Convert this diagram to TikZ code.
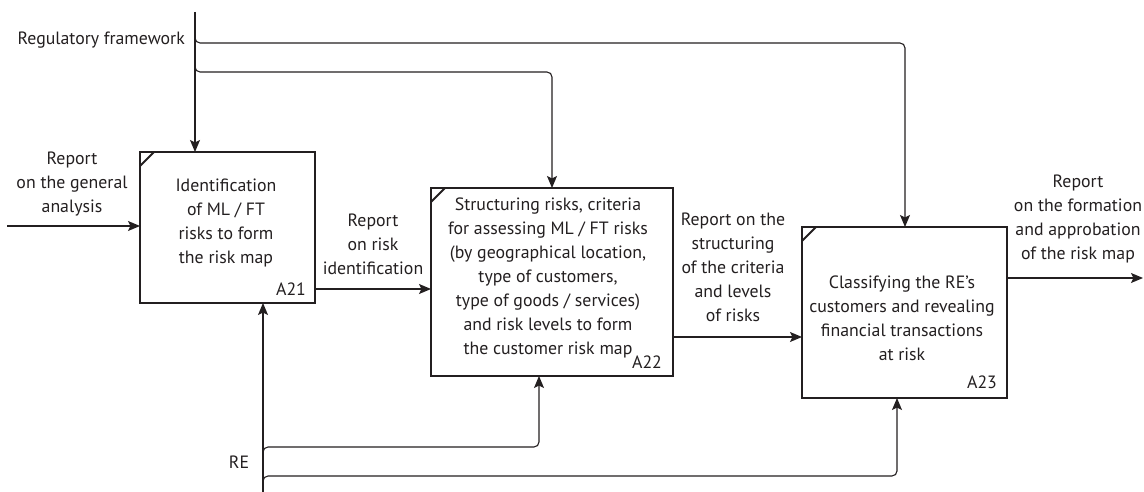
\documentclass[tikz,border=0pt]{standalone}
\usepackage{fontspec}
\setmainfont{PT Sans}
\usetikzlibrary{arrows.meta}
\definecolor{ink}{HTML}{231F20}
\begin{document}
\begin{tikzpicture}[x=1pt,y=-1pt,
  box/.style={draw=ink, line width=2.4pt, inner sep=0pt, outer sep=0pt},
  corner/.style={draw=ink, line width=1.9pt},
  flow/.style={draw=ink, line width=1.1pt, rounded corners=5pt,
    -{Stealth[length=12pt,width=10pt,inset=2.5pt]}},
  txt/.style={text=ink, align=center, inner sep=0pt,
    font=\fontsize{17.8}{24}\selectfont},
  code/.style={text=ink, inner sep=0pt, font=\fontsize{17.8}{20}\selectfont}]
\useasboundingbox (0,0) rectangle (1144,492);

% activity boxes
\node[box, minimum width=175pt, minimum height=151pt] (a21) at (227.5,227.5) {};
\node[box, minimum width=242pt, minimum height=188pt] (a22) at (552,282) {};
\node[box, minimum width=205pt, minimum height=171pt] (a23) at (904.5,312.5) {};
\foreach \b in {a21,a22,a23}
  \draw[corner] ([yshift=-14pt]\b.north west) -- ([xshift=14pt]\b.north west);

% box texts and numbers
\node[txt] (a21t) at (226,223) {Identification\\of ML / FT\\risks to form\\the risk map};
\node[code] (a21c) at (291,289) {A21};
\node[txt] (a22t) at (548,277.5) {Structuring risks, criteria\\for assessing ML / FT risks\\(by geographical location,\\type of customers,\\type of goods / services)\\and risk levels to form\\the customer risk map};
\node[code] (a22c) at (647,362) {A22};
\node[txt] (a23t) at (902,318) {Classifying the RE’s\\customers and revealing\\financial transactions\\at risk};
\node[code] (a23c) at (982,382) {A23};

% controls
\coordinate (regtop) at (195,12);
\coordinate (regA) at (195,37);
\coordinate (ctlA) at (905,43);
\coordinate (regB) at (195,66);
\coordinate (ctlB) at (552,72);
\draw[flow] (regtop) -- (regtop |- a21.north);
\draw[flow] (regA) |- (ctlA) -- (ctlA |- a23.north);
\draw[flow] (regB) |- (ctlB) -- (ctlB |- a22.north);
\node[txt, anchor=east] (reg) at (185,40) {Regulatory framework};

% input and outputs
\coordinate (inA) at (7,226);
\draw[flow] (inA) -- (inA -| a21.west);
\node[txt] (inlab) at (72,184) {Report\\on the general\\analysis};

\draw[flow] ([yshift=-61.5pt]a21.east) -- ([yshift=-61.5pt]a21.east -| a22.west);
\node[txt] (o1) at (373,244.5) {Report\\on risk\\identification};

\draw[flow] ([yshift=-55pt]a22.east) -- ([yshift=-55pt]a22.east -| a23.west);
\node[txt] (o2) at (733,267.5) {Report on the\\structuring\\of the criteria\\and levels\\of risks};

\coordinate (outEnd) at (1143,278);
\draw[flow] (outEnd -| a23.east) -- (outEnd);
\node[txt] (o3) at (1078,219) {Report\\on the formation\\and approbation\\of the risk map};

% mechanisms
\coordinate (mechbot) at (263,492);
\coordinate (mecC) at (263,453);
\coordinate (mc) at (539,447);
\coordinate (mecD) at (263,482);
\coordinate (md) at (897,476);
\draw[flow] (mechbot) -- (mechbot |- a21.south);
\draw[flow] (mecC) |- (mc) -- (mc |- a22.south);
\draw[flow] (mecD) |- (md) -- (md |- a23.south);
\node[txt] (re) at (239,462) {RE};
\end{tikzpicture}
\end{document}
